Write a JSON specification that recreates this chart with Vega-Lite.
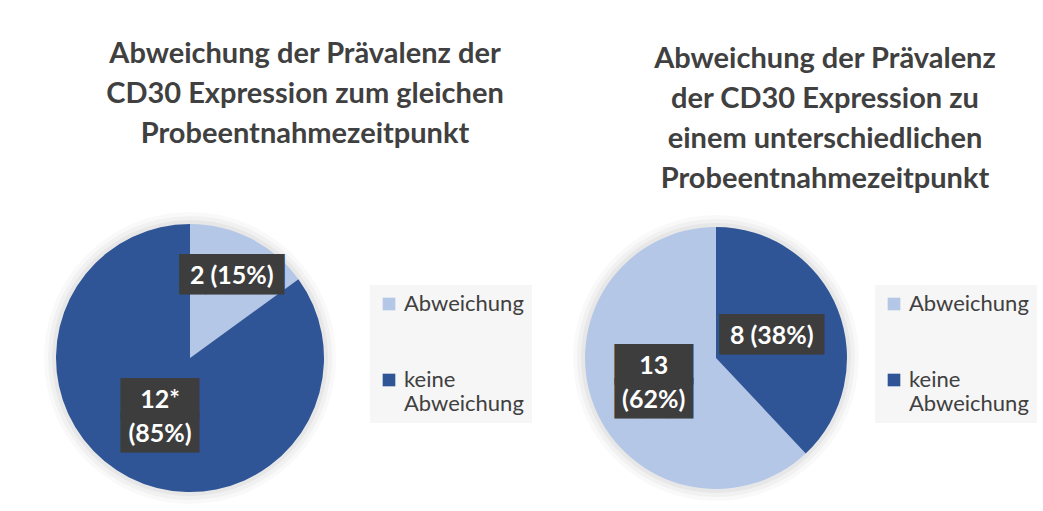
{
  "$schema": "https://vega.github.io/schema/vega-lite/v6.json",
  "padding": {"left": 44, "top": 40, "right": 0, "bottom": 0},
  "background": "white",
  "spacing": 261,
  "bounds": "flush",
  "config": {
    "view": {"stroke": null},
    "font": "Lato",
    "title": {"font": "Lato", "fontSize": 29, "fontWeight": "bold", "color": "#404040", "lineHeight": 40, "anchor": "middle"},
    "legend": {
      "orient": "none",
      "fillColor": "#F6F6F6",
      "padding": 8,
      "symbolType": "square",
      "symbolSize": 160,
      "symbolStrokeWidth": 0,
      "labelFont": "Lato",
      "labelFontSize": 22,
      "labelColor": "#404040",
      "labelLimit": 300,
      "rowPadding": 54,
      "title": null
    }
  },
  "resolve": {"scale": {"color": "independent", "radius": "independent", "theta": "independent"}, "legend": {"color": "independent"}},
  "hconcat": [
    {
      "width": 268,
      "height": 268,
      "title": {"text": ["Abweichung der Prävalenz der", "CD30 Expression zum gleichen", "Probeentnahmezeitpunkt"], "dx": 115, "offset": 63},
      "data": {"values": [
        {"Kategorie": "Abweichung", "Anzahl": 2, "Prozent": 15, "Label": "2 (15%)"},
        {"Kategorie": "keine Abweichung", "Anzahl": 12, "Prozent": 85, "Label": "12*\n(85%)"}
      ]},
      "encoding": {
        "theta": {"field": "Prozent", "type": "quantitative", "stack": true},
        "order": {"field": "Kategorie", "sort": "ascending"},
        "color": {
          "field": "Kategorie", "type": "nominal",
          "scale": {"domain": ["Abweichung", "keine Abweichung"], "range": ["#B4C7E7", "#2F5597"]},
          "legend": {"legendX": 314, "legendY": 61, "labelExpr": "split(datum.label, ' ')"}
        }
      },
      "layer": [
        {"mark": {"type": "arc", "outerRadius": 146, "opacity": 0.025}, "encoding": {"color": {"value": "#000000"}}},
        {"mark": {"type": "arc", "outerRadius": 142, "opacity": 0.03}, "encoding": {"color": {"value": "#000000"}}},
        {"mark": {"type": "arc", "outerRadius": 138, "opacity": 0.04}, "encoding": {"color": {"value": "#000000"}}},
        {"mark": {"type": "arc", "outerRadius": 134}},
        {
          "mark": {"type": "text", "font": "DejaVu Sans", "align": "center", "baseline": "middle", "lineBreak": "\n", "lineHeight": 34, "dy": {"expr": "datum.Prozent > 50 ? -17 : 0"}},
          "encoding": {
            "radius": {"field": "Prozent", "type": "quantitative", "scale": {"type": "linear", "domain": [15, 85], "range": [92, 66], "zero": false}},
            "text": {"condition": {"test": "datum.Prozent > 50", "value": "███\n███"}, "value": "████"},
            "size": {"value": 34},
            "color": {"value": "#3D3D3D"}
          }
        },
        {
          "mark": {"type": "text", "font": "Lato", "fontWeight": "bold", "fontSize": 25, "align": "center", "baseline": "middle", "lineBreak": "\n", "lineHeight": 34, "dy": {"expr": "datum.Prozent > 50 ? -17 : 0"}},
          "encoding": {
            "radius": {"field": "Prozent", "type": "quantitative", "scale": {"type": "linear", "domain": [15, 85], "range": [92, 66], "zero": false}},
            "text": {"field": "Label"},
            "color": {"value": "white"}
          }
        }
      ]
    },
    {
      "width": 262,
      "height": 268,
      "title": {"text": ["Abweichung der Prävalenz", "der CD30 Expression zu", "einem unterschiedlichen", "Probeentnahmezeitpunkt"], "dx": 109, "offset": 21},
      "data": {"values": [
        {"Kategorie": "Abweichung", "Anzahl": 13, "Prozent": 62, "Label": "13\n(62%)"},
        {"Kategorie": "keine Abweichung", "Anzahl": 8, "Prozent": 38, "Label": "8 (38%)"}
      ]},
      "encoding": {
        "theta": {"field": "Prozent", "type": "quantitative", "stack": true},
        "order": {"field": "Kategorie", "sort": "descending"},
        "color": {
          "field": "Kategorie", "type": "nominal",
          "scale": {"domain": ["Abweichung", "keine Abweichung"], "range": ["#B4C7E7", "#2F5597"]},
          "legend": {"legendX": 290, "legendY": 61, "labelExpr": "split(datum.label, ' ')"}
        }
      },
      "layer": [
        {"mark": {"type": "arc", "outerRadius": 143, "opacity": 0.025}, "encoding": {"color": {"value": "#000000"}}},
        {"mark": {"type": "arc", "outerRadius": 139, "opacity": 0.03}, "encoding": {"color": {"value": "#000000"}}},
        {"mark": {"type": "arc", "outerRadius": 135, "opacity": 0.04}, "encoding": {"color": {"value": "#000000"}}},
        {"mark": {"type": "arc", "outerRadius": 131}},
        {
          "mark": {"type": "text", "font": "DejaVu Sans", "align": "center", "baseline": "middle", "lineBreak": "\n", "lineHeight": 34, "dy": {"expr": "datum.Prozent > 50 ? -17 : 0"}},
          "encoding": {
            "radius": {"field": "Prozent", "type": "quantitative", "scale": {"type": "linear", "domain": [38, 62], "range": [60, 67], "zero": false}},
            "text": {"condition": {"test": "datum.Prozent > 50", "value": "███\n███"}, "value": "████"},
            "size": {"value": 34},
            "color": {"value": "#3D3D3D"}
          }
        },
        {
          "mark": {"type": "text", "font": "Lato", "fontWeight": "bold", "fontSize": 25, "align": "center", "baseline": "middle", "lineBreak": "\n", "lineHeight": 34, "dy": {"expr": "datum.Prozent > 50 ? -17 : 0"}},
          "encoding": {
            "radius": {"field": "Prozent", "type": "quantitative", "scale": {"type": "linear", "domain": [38, 62], "range": [60, 67], "zero": false}},
            "text": {"field": "Label"},
            "color": {"value": "white"}
          }
        }
      ]
    }
  ]
}
